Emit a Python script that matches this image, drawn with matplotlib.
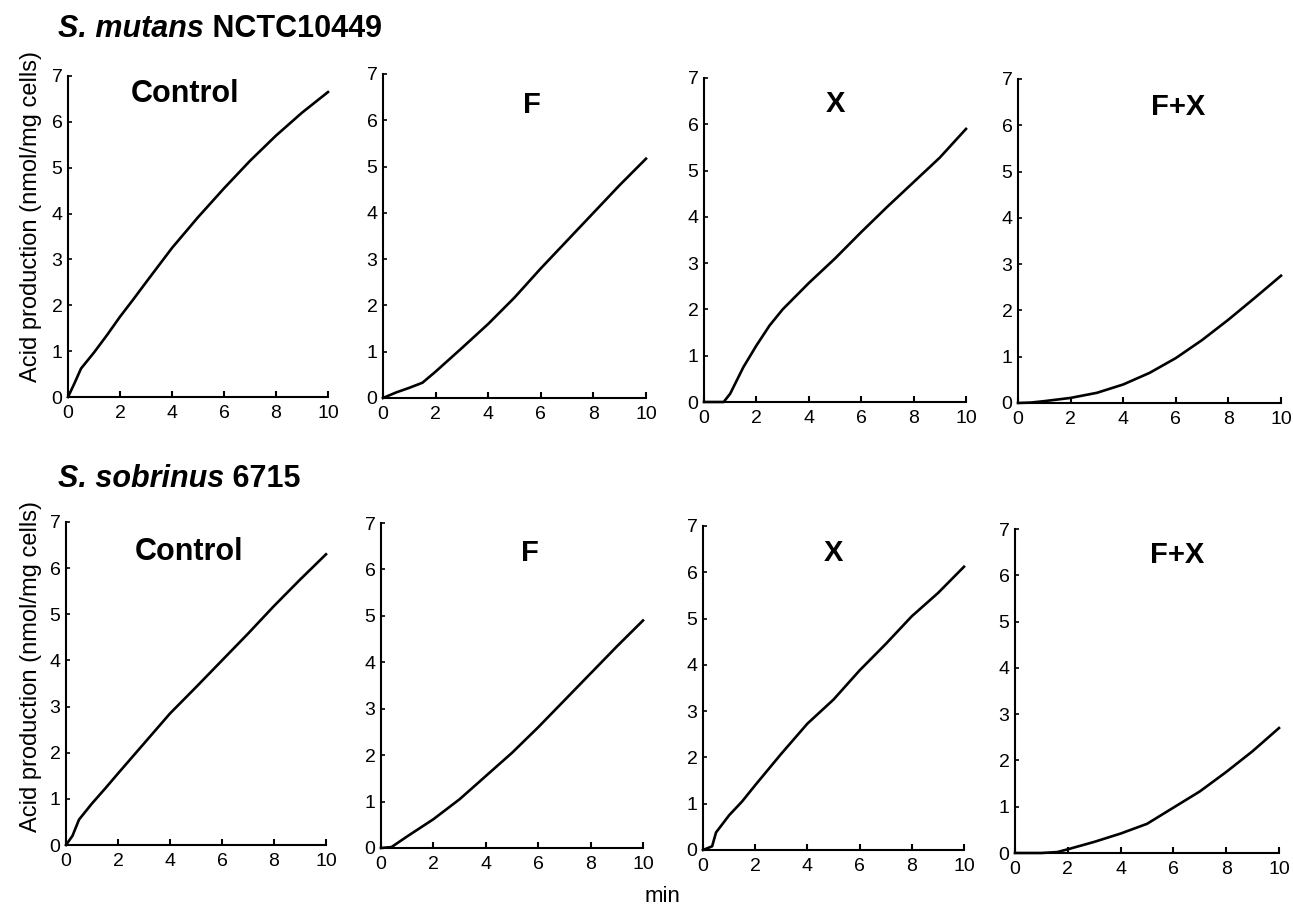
import matplotlib
matplotlib.use("Agg")
import matplotlib.pyplot as plt

plt.rcParams['font.family'] = ['Liberation Sans', 'DejaVu Sans']

# S. mutans NCTC10449 (min, nmol/mg cells)
mut_ctrl_t = [0, 0.25, 0.5, 1, 1.5, 2, 2.5, 3, 4, 5, 6, 7, 8, 9, 10]
mut_ctrl_y = [0, 0.3, 0.62, 0.97, 1.35, 1.75, 2.12, 2.5, 3.25, 3.92, 4.55, 5.15, 5.7, 6.2, 6.65]
mut_f_t = [0, 0.5, 1, 1.5, 2, 3, 4, 5, 6, 7, 8, 9, 10]
mut_f_y = [0, 0.12, 0.22, 0.33, 0.57, 1.08, 1.6, 2.17, 2.8, 3.4, 4.0, 4.6, 5.17]
mut_x_t = [0, 0.75, 1, 1.5, 2, 2.5, 3, 4, 5, 6, 7, 8, 9, 10]
mut_x_y = [0, 0, 0.18, 0.75, 1.22, 1.65, 2.0, 2.57, 3.1, 3.67, 4.22, 4.75, 5.28, 5.9]
mut_fx_t = [0, 0.5, 1, 2, 3, 4, 5, 6, 7, 8, 9, 10]
mut_fx_y = [0, 0.01, 0.04, 0.11, 0.22, 0.4, 0.65, 0.97, 1.36, 1.8, 2.27, 2.75]

# S. sobrinus 6715
sob_ctrl_t = [0, 0.25, 0.5, 1, 1.5, 2, 3, 4, 5, 6, 7, 8, 9, 10]
sob_ctrl_y = [0, 0.2, 0.55, 0.9, 1.22, 1.55, 2.2, 2.85, 3.42, 4.0, 4.58, 5.18, 5.75, 6.3]
sob_f_t = [0, 0.4, 1, 2, 3, 4, 5, 6, 7, 8, 9, 10]
sob_f_y = [0, 0.02, 0.25, 0.62, 1.05, 1.55, 2.05, 2.6, 3.18, 3.76, 4.34, 4.9]
sob_x_t = [0, 0.35, 0.5, 1, 1.5, 2, 3, 4, 5, 6, 7, 8, 9, 10]
sob_x_y = [0, 0.08, 0.38, 0.75, 1.05, 1.4, 2.08, 2.73, 3.25, 3.88, 4.45, 5.05, 5.55, 6.12]
sob_fx_t = [0, 1, 1.6, 2, 3, 4, 5, 6, 7, 8, 9, 10]
sob_fx_y = [0, 0, 0.02, 0.08, 0.24, 0.42, 0.63, 0.98, 1.33, 1.75, 2.2, 2.7]

treatments = ["Control", "F", "X", "F+X"]
x_ticks = [0, 2, 4, 6, 8, 10]
y_ticks = [0, 1, 2, 3, 4, 5, 6, 7]

rows = [
    [(mut_ctrl_t, mut_ctrl_y), (mut_f_t, mut_f_y), (mut_x_t, mut_x_y), (mut_fx_t, mut_fx_y)],
    [(sob_ctrl_t, sob_ctrl_y), (sob_f_t, sob_f_y), (sob_x_t, sob_x_y), (sob_fx_t, sob_fx_y)],
]

W, H = 1293, 906
fig = plt.figure(figsize=(W / 100, H / 100), dpi=100)

# axis boxes in pixels: (x at 0, x at 10, y at 7, y at 0)
boxes = [
    [(68, 328, 76, 397), (383, 646, 74, 398), (704, 966, 78, 402), (1018, 1281, 79, 403)],
    [(66, 326, 522, 845), (381, 643, 523, 848), (703, 964, 526, 850), (1015, 1279, 529, 853)],
]
# where the panel label sits (data coords)
label_pos = [
    [(4.5, 6.6), (5.67, 6.33), (5.0, 6.44), (6.08, 6.39)],
    [(4.73, 6.35), (5.69, 6.36), (4.98, 6.41), (6.14, 6.44)],
]

for r in range(2):
    for c in range(4):
        x0, x1, y1, y0 = boxes[r][c]
        ax = fig.add_axes([x0 / W, 1 - y0 / H, (x1 - x0) / W, (y0 - y1) / H])
        t, y = rows[r][c]
        ax.plot(t, y, color="black", lw=1.9, clip_on=False, solid_joinstyle="round")
        ax.set_xlim(0, 10)
        ax.set_ylim(0, 7)
        ax.set_xticks(x_ticks)
        ax.set_yticks(y_ticks)
        for s in ["top", "right"]:
            ax.spines[s].set_visible(False)
        for s in ["left", "bottom"]:
            ax.spines[s].set_linewidth(1.5)
        ax.tick_params(axis="x", direction="in", length=4.5, width=1.5, labelsize=14, pad=6)
        ax.tick_params(axis="y", direction="in", length=3, width=1.2, labelsize=14, pad=4)
        ax.set_facecolor("none")
        lx, ly = label_pos[r][c]
        ax.text(lx, ly, treatments[c], fontsize=22 if c == 0 else 21, fontweight="bold",
                ha="center", va="center")

# row headers: italic species + strain
headers = [("S. mutans", " NCTC10449", 37), ("S. sobrinus", " 6715", 487)]
for sp, strain, yb in headers:
    t1 = fig.text(58 / W, 1 - yb / H, sp, fontsize=22, fontweight="bold", style="italic",
                  ha="left", va="baseline")
    plt.annotate(strain, xy=(1, 0), xycoords=t1, fontsize=22, fontweight="bold",
                 ha="left", va="bottom", annotation_clip=False)

ylab = "Acid production (nmol/mg cells)"
fig.text(31 / W, 1 - 216 / H, ylab, rotation=90, fontsize=17, ha="center", va="center")
fig.text(31 / W, 1 - 667 / H, ylab, rotation=90, fontsize=17, ha="center", va="center")
fig.text(662 / W, 1 - 897 / H, "min", fontsize=16, ha="center", va="center")

fig.savefig("out.png", dpi=100)
